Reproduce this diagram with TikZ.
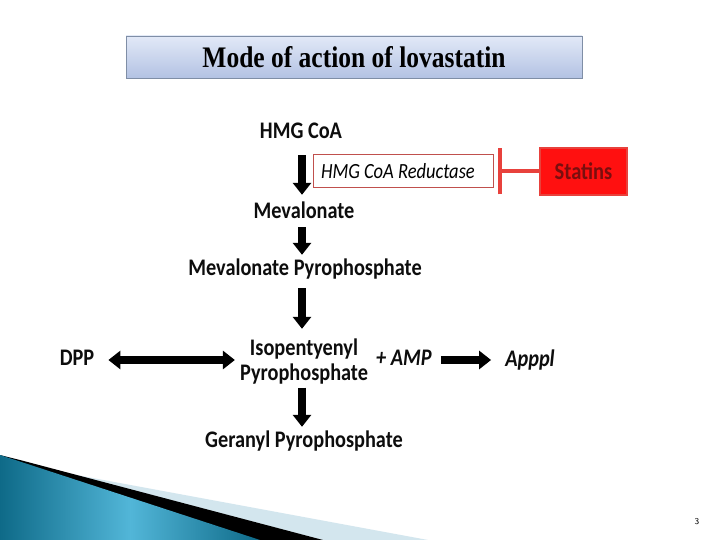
\documentclass[tikz,border=0pt]{standalone}
\usepackage{fontspec}
\usepackage{graphicx}
\setmainfont{Carlito}
\newfontfamily\titlefont{Liberation Serif}
\usetikzlibrary{arrows.meta}
\definecolor{tealdark}{HTML}{0E6A88}
\definecolor{teallight}{HTML}{52B6D8}
\definecolor{lightband}{HTML}{D3E6EE}
\definecolor{titletop}{HTML}{E2E9F7}
\definecolor{titlebot}{HTML}{B3C2E3}
\definecolor{titleedge}{HTML}{7F8EA6}
\definecolor{redline}{HTML}{E8413C}
\definecolor{redfill}{HTML}{FF1010}
\definecolor{redtext}{HTML}{7A0E0E}
\definecolor{boxedge}{HTML}{C0504D}
\newcommand{\tallx}[1]{\scalebox{1}[1.17]{#1}}
\tikzset{
  lbl/.style={font=\bfseries\fontsize{20.3}{22}\selectfont, inner sep=0pt, text height=16pt, text depth=5pt, text=black!95},
  ilbl/.style={lbl, font=\bfseries\itshape\fontsize{20.3}{22}\selectfont},
  bigarrow/.style={line width=8pt, -{Triangle[width=18pt,length=12pt]}},
  dblarrow/.style={line width=8pt, {Triangle[width=18pt,length=12pt]}-{Triangle[width=18pt,length=12pt]}},
  inhib/.style={draw=redline, line width=4pt, -{Bar[width=46pt]}},
}
\begin{document}
\begin{tikzpicture}[x=1pt,y=-1pt]
\useasboundingbox (0,0) rectangle (720,540);
\fill[white] (0,0) rectangle (720,540);
% slide decoration
\fill[lightband] (71,474) -- (428,540) -- (323,540) -- cycle;
\fill[black] (0,455) -- (20,460) -- (323,540) -- (0,540) -- cycle;
\shade[left color=tealdark, right color=tealdark, middle color=teallight] (0,455) -- (260,540) -- (0,540) -- cycle;
% title
\node[draw=titleedge, line width=0.8pt, top color=titletop, bottom color=titlebot,
      minimum width=456pt, minimum height=42pt, inner sep=0pt,
      font=\titlefont\bfseries\fontsize{25.5}{28}\selectfont] (title) at (354,57) {\tallx{Mode of action of lovastatin}};
% nodes
\node[lbl] (hmg) at (301,133) {\tallx{HMG CoA}};
\node[draw=boxedge, line width=1pt, fill=white, minimum width=180pt, minimum height=33pt,
      text width=164pt, inner xsep=8pt, inner ysep=0pt, align=left,
      font=\itshape\fontsize{18.5}{20}\selectfont] (red) at (403,171.5) {\tallx{\spaceskip=0.22em\relax HMG CoA Reductase}};
\node[draw=redline, line width=2pt, fill=redfill, minimum width=87pt, minimum height=47pt, inner sep=0pt,
      text=redtext, font=\bfseries\fontsize{20.5}{22}\selectfont] (statins) at (583.5,171.5) {\tallx{Statins}};
\node[lbl] (mev) at (304,213) {\tallx{Mevalonate}};
\node[lbl] (mevpp) at (305,270) {\tallx{Mevalonate Pyrophosphate}};
\node[lbl] (ipp1) at (304,350) {\tallx{Isopentyenyl}};
\node[lbl] (ipp2) at (304,375) {\tallx{Pyrophosphate}};
\node[lbl] (dpp) at (77,360) {\tallx{DPP}};
\node[ilbl] (amp) at (404,360) {\tallx{+ AMP}};
\node[ilbl] (apppl) at (530,361) {\tallx{Apppl}};
\node[lbl] (ger) at (304,442) {\tallx{Geranyl Pyrophosphate}};
\node[font=\sffamily\fontsize{9}{10}\selectfont, inner sep=0pt] (pnum) at (697,522) {3};
\coordinate (ax) at (302,0);
% arrows
\draw[bigarrow, shorten <=11.5pt, shorten >=7.5pt] (hmg.south -| ax) -- (mev.north -| ax);
\draw[bigarrow, shorten <=3.5pt, shorten >=4.5pt] (mev.south -| ax) -- (mevpp.north -| ax);
\draw[bigarrow, shorten <=7.5pt, shorten >=10.5pt] (mevpp.south -| ax) -- (ipp1.north -| ax);
\draw[bigarrow, shorten <=2pt, shorten >=4.5pt] (ipp2.south -| ax) -- (ger.north -| ax);
\draw[dblarrow, shorten <=14pt, shorten >=5pt] (dpp.east) -- (dpp.east -| ipp2.west);
\draw[bigarrow, shorten <=9pt, shorten >=14pt] (amp.east) -- (apppl.west |- amp.east);
\draw[inhib, shorten >=4pt] (statins.west) -- (red.east);
\end{tikzpicture}
\end{document}
